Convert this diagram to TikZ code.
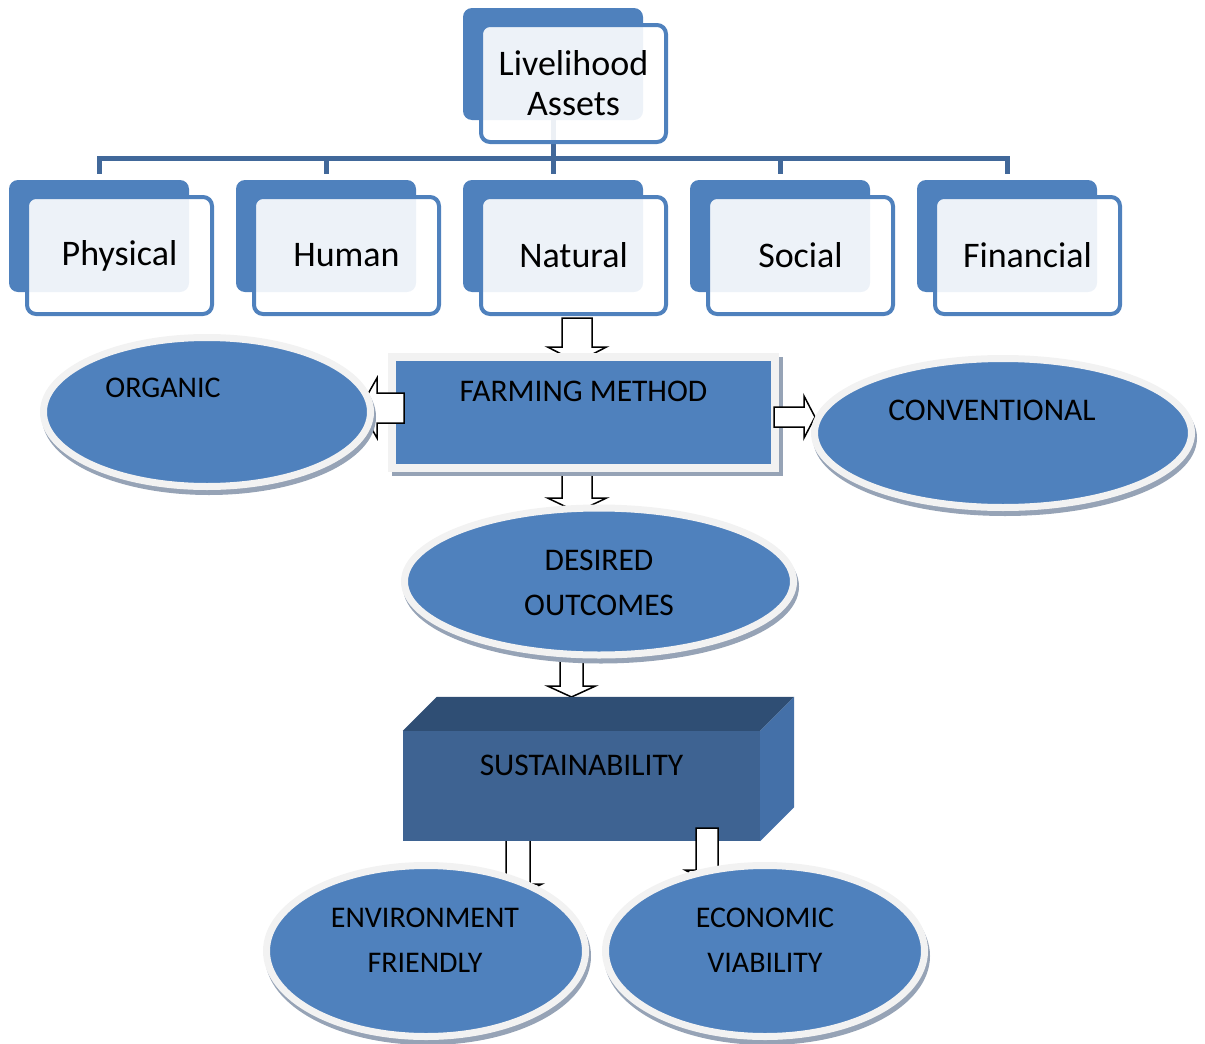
\documentclass[tikz,border=0pt]{standalone}
\usepackage{fontspec}
\setmainfont{Carlito}
\usetikzlibrary{shapes.geometric,shadows}
\definecolor{sblue}{RGB}{79,129,189}
\definecolor{linkc}{RGB}{65,104,154}
\definecolor{ringc}{RGB}{242,242,242}
\definecolor{shadowc}{RGB}{150,163,182}
\definecolor{cubefront}{RGB}{62,99,146}
\definecolor{cubetop}{RGB}{47,78,116}
\definecolor{cuberight}{RGB}{68,112,168}
\tikzset{
  backbox/.style={fill=sblue, rounded corners=9pt, minimum width=180pt, minimum height=112pt, inner sep=0pt},
  frontbox/.style={draw=sblue, line width=4pt, fill=white, fill opacity=0.9, text opacity=1,
    rounded corners=9pt, minimum width=185pt, minimum height=117pt, inner sep=0pt,
    align=center, font=\fontsize{36}{40}\selectfont},
  link/.style={draw=linkc, line width=5pt, line cap=rect},
  barrow/.style={draw=black, fill=white, line width=1.5pt, line join=miter},
  plainbox/.style={rectangle, fill=sblue, draw=ringc, line width=8pt, inner sep=0pt,
    drop shadow={shadow xshift=4pt, shadow yshift=-4pt, fill=shadowc, draw=shadowc, line width=8pt, opacity=1}},
  oval/.style={ellipse, fill=sblue, draw=ringc, line width=7pt, inner sep=0pt,
    drop shadow={shadow xshift=2pt, shadow yshift=-5pt, fill=shadowc, draw=shadowc, line width=7pt, opacity=1}},
  txt/.style={inner sep=0pt, align=center, font=\fontsize{30}{45}\selectfont},
  bigtxt/.style={txt, font=\fontsize{31.5}{45}\selectfont}
}
% block arrows: x, top, head base, tip, half shaft, half head
\newcommand\arrowdown[6]{\draw[barrow] (#1-#5,#2) -- (#1+#5,#2) -- (#1+#5,#3) -- (#1+#6,#3) -- (#1,#4) -- (#1-#6,#3) -- (#1-#5,#3) -- cycle;}
% y, start, head base, tip, half shaft, half head
\newcommand\arrowh[6]{\draw[barrow] (#2,#1-#5) -- (#3,#1-#5) -- (#3,#1-#6) -- (#4,#1) -- (#3,#1+#6) -- (#3,#1+#5) -- (#2,#1+#5) -- cycle;}
\begin{document}
\begin{tikzpicture}[x=1pt,y=-1pt]
\useasboundingbox (0,0) rectangle (1205,1044);
% livelihood assets
\node[backbox] (assets-b) at (553,64) {};
\draw[link] (assets-b.south) -- ++(0,38) coordinate (bar);
\node[frontbox] (assets) at (573.5,83.5) {Livelihood\\Assets};
% five assets
\foreach \n [count=\i from 0] in {physical,human,natural,social,financial}{
  \node[backbox] (\n-b) at (99+227*\i,236) {};
  \draw[link] (\n-b.north |- bar) -- ([yshift=8pt]\n-b.north);
}
\draw[link] (physical-b.north |- bar) -- (financial-b.north |- bar);
\foreach \n/\t [count=\i from 0] in {physical/Physical,human/Human,natural/Natural,social/Social,financial/Financial}
  \node[frontbox] (\n) at (119.5+227*\i,255.5) {\t};
% farming method
\arrowdown{577}{318}{347}{362}{15}{29.5}
\arrowdown{577}{470}{498}{512}{15}{29.5}
\node[plainbox, minimum width=383pt, minimum height=111pt] (farming) at (583.5,412.5) {};
\node[bigtxt] (farming-t) at ([shift={(0,-21)}]farming.center) {FARMING METHOD};
\arrowh{408}{404}{377}{360}{15}{30}
\arrowh{417}{774}{804}{815}{10}{21}
\node[oval, minimum width=327pt, minimum height=149pt] (organic) at (207,412) {};
\node[txt] (organic-t) at ([shift={(-44,-24)}]organic.center) {ORGANIC};
\node[oval, minimum width=377pt, minimum height=149pt] (conventional) at (1003,433) {};
\node[bigtxt] (conventional-t) at ([shift={(-11,-23)}]conventional.center) {CONVENTIONAL};
% outcomes
\arrowdown{571.5}{650}{686}{697}{11.5}{24}
\node[oval, minimum width=389pt, minimum height=147pt] (desired) at (599,581.5) {};
\node[bigtxt] (desired-t) at ([shift={(0,1)}]desired.center) {DESIRED\\OUTCOMES};
% sustainability
\arrowdown{518}{835}{884}{896}{12}{24}
\node[fill=cubefront, minimum width=357pt, minimum height=110pt, inner sep=0pt] (sustain) at (581.5,786) {};
\fill[cubetop] (sustain.north west) -- ++(34,-34) -- ([shift={(34,-34)}]sustain.north east) -- (sustain.north east) -- cycle;
\fill[cuberight] (sustain.north east) -- ++(34,-34) -- ([shift={(34,-34)}]sustain.south east) -- (sustain.south east) -- cycle;
\node[bigtxt] (sustain-t) at ([shift={(0,-21)}]sustain.center) {SUSTAINABILITY};
\arrowdown{707}{828}{870}{882}{11}{22}
\node[oval, minimum width=319pt, minimum height=171pt] (environment) at (426,951) {};
\node[txt] (environment-t) at ([shift={(-1,-11)}]environment.center) {ENVIRONMENT\\FRIENDLY};
\node[oval, minimum width=319pt, minimum height=171pt] (economic) at (765,951) {};
\node[txt] (economic-t) at ([shift={(0,-11)}]economic.center) {ECONOMIC\\VIABILITY};
\end{tikzpicture}
\end{document}
